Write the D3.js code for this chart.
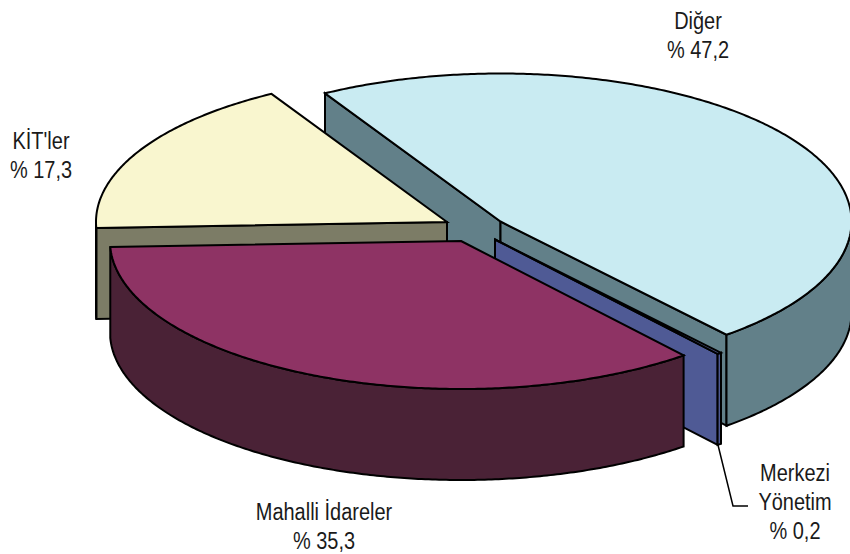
<!DOCTYPE html>
<html>
<head>
<meta charset="utf-8">
<script src="https://cdn.jsdelivr.net/npm/d3@7"></script>
<style>
  html, body { margin: 0; background: #fff; }
  svg { display: block; }
  text { font-family: "Liberation Sans", sans-serif; font-size: 23.5px; fill: #1a1a1a; text-anchor: middle; }
  path { stroke: #000; stroke-width: 2; stroke-linejoin: miter; }
  .leader { fill: none; stroke-width: 1.5; }
</style>
</head>
<body>
<svg width="850" height="554"></svg>
<script>
const categories = ["Diğer", "Merkezi Yönetim", "Mahalli İdareler", "KİT'ler"]
const shares = [47.2, 0.2, 35.3, 17.3]
const shareLabels = ["% 47,2", "% 0,2", "% 35,3", "% 17,3"]

const topColors = ["#c9ebf2", "#7c88cc", "#8e3364", "#f9f6cf"]
const sideColors = ["#628089", "#4f5a95", "#4a2236", "#7c7c66"]

// where each exploded slice has its tip
const tips = [[500.5, 221.5], [495, 239.5], [461, 241], [447, 222]]
const labelPos = [[698, 29], [795, 481], [324, 520], [41, 149]]
const radiusX = 351
const radiusY = 148
const depth = 91

const svg = d3.select("svg")

const pie = d3.pie()
  .sort(null)
  .startAngle(-Math.PI / 6)
  .endAngle(Math.PI * 2 - Math.PI / 6)

const slices = pie(shares)

const project = (tip, angle, drop = 0) => [
  tip[0] + radiusX * Math.sin(angle),
  tip[1] - radiusY * Math.cos(angle) + drop
]

const rimPoints = (tip, from, to, drop = 0) => {
  const steps = Math.max(2, Math.ceil((to - from) / 0.01))
  return d3.range(steps + 1).map(i => project(tip, from + (to - from) * i / steps, drop))
}

const line = d3.line()

// back to front, so later slices hide the earlier ones
const drawOrder = [0, 3, 1, 2]

drawOrder.forEach(i => {
  const { startAngle, endAngle } = slices[i]
  const tip = tips[i]
  const group = svg.append("g").attr("class", "slice").attr("data-name", categories[i])

  const cutFace = angle => line([
    tip,
    project(tip, angle),
    project(tip, angle, depth),
    [tip[0], tip[1] + depth]
  ]) + "Z"

  if (Math.sin(startAngle) < 0) {
    group.append("path").attr("d", cutFace(startAngle)).attr("fill", sideColors[i])
  }
  if (Math.sin(endAngle) > 0) {
    group.append("path").attr("d", cutFace(endAngle)).attr("fill", sideColors[i])
  }

  // outer wall, only the part turned to the viewer
  const wallFrom = Math.max(startAngle, Math.PI / 2)
  const wallTo = Math.min(endAngle, Math.PI * 1.5)
  if (wallTo > wallFrom) {
    const wall = rimPoints(tip, wallFrom, wallTo)
      .concat(rimPoints(tip, wallFrom, wallTo, depth).reverse())
    group.append("path").attr("d", line(wall) + "Z").attr("fill", sideColors[i])
  }

  const top = [tip].concat(rimPoints(tip, startAngle, endAngle))
  group.append("path").attr("d", line(top) + "Z").attr("fill", topColors[i])
})

svg.append("path")
  .attr("class", "leader")
  .attr("d", line([[718, 445], [733, 506], [748, 506]]))

const labelLines = [
  ["Diğer", shareLabels[0]],
  ["Merkezi", "Yönetim", shareLabels[1]],
  ["Mahalli İdareler", shareLabels[2]],
  ["KİT'ler", shareLabels[3]]
]

// the original type is a narrow face, so squeeze the text sideways
labelLines.forEach((rows, i) => {
  svg.append("text")
    .attr("transform", `translate(${labelPos[i][0]}, ${labelPos[i][1]}) scale(0.85, 1)`)
    .selectAll("tspan")
    .data(rows)
    .enter()
    .append("tspan")
    .attr("x", 0)
    .attr("y", (d, j) => j * 29)
    .text(d => d)
})
</script>
</body>
</html>
